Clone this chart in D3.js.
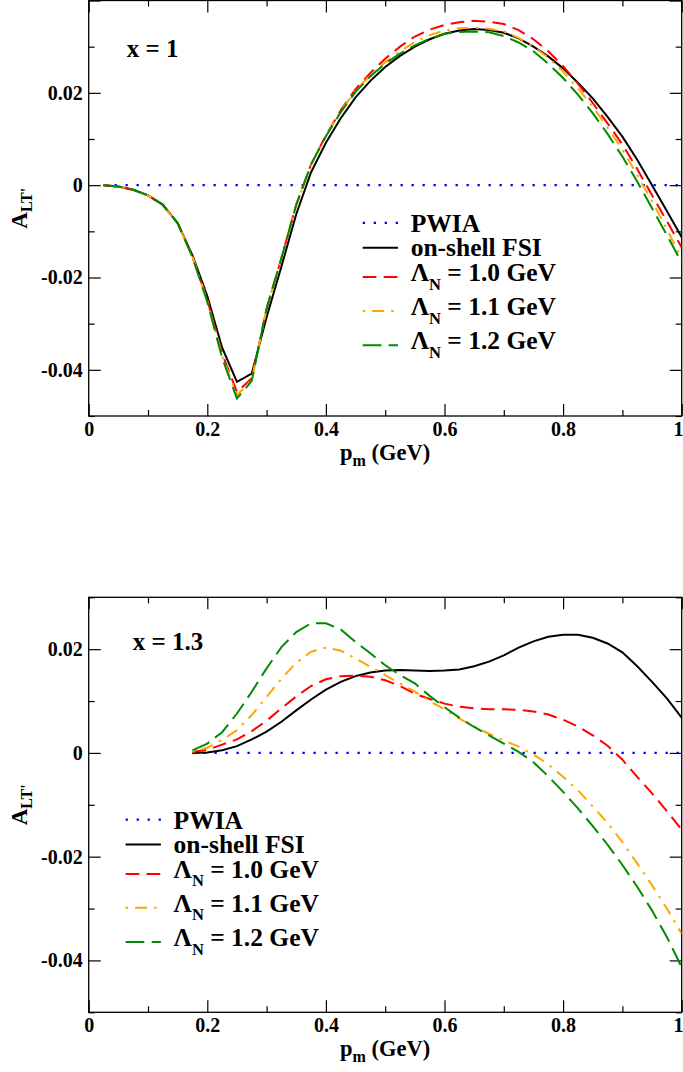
<!DOCTYPE html>
<html>
<head>
<meta charset="utf-8">
<script src="https://cdn.jsdelivr.net/npm/d3@7"></script>
<style>
  html, body { margin: 0; padding: 0; background: #ffffff; }
  svg { display: block; }
  text { font-family: "Liberation Serif", "Times New Roman", serif; font-weight: bold; fill: #000; }
</style>
</head>
<body>
<svg id="chart" width="683" height="1072"></svg>
<script>
// ---------------- DATA ----------------
const xTop = [0.025,0.05,0.075,0.1,0.125,0.15,0.175,0.2,0.225,0.25,0.275,0.3,0.325,0.35,0.375,0.4,
  0.425,0.45,0.475,0.5,0.525,0.55,0.575,0.6,0.625,0.65,0.675,0.7,0.725,0.75,0.775,0.8,0.825,0.85,
  0.875,0.9,0.925,0.95,0.975,1.0];
const topPWIA = [0,0,0,0,0,0,0,0,0,0,0,0,0,0,0,0,0,0,0,0,0,0,0,0,0,0,0,0,0,0,0,0,0,0,0,0,0,0,0,0];
const topOnShell = [0,-0.0003,-0.0010,-0.0022,-0.0042,-0.0082,-0.0152,-0.0240,-0.0352,-0.0426,-0.0408,
  -0.0286,-0.0176,-0.0063,0.0028,0.0092,0.0145,0.0190,0.0226,0.0256,0.0280,0.0300,0.0316,0.0328,
  0.0335,0.0338,0.0336,0.0330,0.0318,0.0300,0.0279,0.0253,0.0222,0.0188,0.0148,0.0105,0.0055,0.0000,
  -0.0056,-0.0113];
const topL10 = [0,-0.0003,-0.0010,-0.0022,-0.0043,-0.0082,-0.0155,-0.0248,-0.0365,-0.0448,-0.0418,
  -0.0268,-0.0158,-0.0042,0.0045,0.0108,0.0162,0.0208,0.0243,0.0274,0.0300,0.0322,0.0337,0.0347,
  0.0353,0.0356,0.0354,0.0349,0.0336,0.0316,0.0290,0.0258,0.0220,0.0178,0.0134,0.0088,0.0035,-0.0022,
  -0.0078,-0.0135];
const topL11 = [0,-0.0003,-0.0010,-0.0022,-0.0043,-0.0082,-0.0155,-0.0250,-0.0370,-0.0455,-0.0422,
  -0.0268,-0.0158,-0.0043,0.0045,0.0107,0.0160,0.0205,0.0238,0.0266,0.0290,0.0310,0.0325,0.0335,
  0.0340,0.0341,0.0339,0.0333,0.0319,0.0300,0.0276,0.0246,0.0210,0.0170,0.0125,0.0077,0.0022,-0.0035,
  -0.0095,-0.0160];
const topL12 = [0,-0.0003,-0.0010,-0.0022,-0.0043,-0.0082,-0.0156,-0.0253,-0.0374,-0.0462,-0.0424,
  -0.0267,-0.0158,-0.0043,0.0045,0.0106,0.0158,0.0202,0.0236,0.0263,0.0285,0.0303,0.0317,0.0328,
  0.0332,0.0333,0.0331,0.0323,0.0309,0.0290,0.0263,0.0232,0.0196,0.0156,0.0111,0.0062,0.0008,-0.0050,
  -0.0108,-0.0168];

const xBot = [0.175,0.2,0.225,0.25,0.275,0.3,0.325,0.35,0.375,0.4,0.425,0.45,0.475,0.5,0.525,0.55,
  0.575,0.6,0.625,0.65,0.675,0.7,0.725,0.75,0.775,0.8,0.825,0.85,0.875,0.9,0.925,0.95,0.975,1.0];
const botPWIA = [0,0,0,0,0,0,0,0,0,0,0,0,0,0,0,0,0,0,0,0,0,0,0,0,0,0,0,0,0,0,0,0,0,0];
const botOnShell = [0,0.0001,0.0005,0.0013,0.0026,0.0041,0.0060,0.0082,0.0103,0.0122,0.0137,0.0148,
  0.0155,0.0159,0.0160,0.0159,0.0158,0.0159,0.0161,0.0167,0.0176,0.0188,0.0203,0.0215,0.0224,0.0228,
  0.0228,0.0222,0.0211,0.0194,0.0167,0.0137,0.0105,0.0068];
const botL10 = [0.0002,0.0006,0.0016,0.0026,0.0042,0.0062,0.0086,0.0109,0.0129,0.0142,0.0148,0.0149,
  0.0147,0.0140,0.0129,0.0114,0.0104,0.0095,0.0089,0.0086,0.0084,0.0084,0.0083,0.0080,0.0074,0.0064,
  0.0051,0.0034,0.0014,-0.0013,-0.0046,-0.0078,-0.0112,-0.0148];
const botL11 = [0.0002,0.0010,0.0025,0.0044,0.0073,0.0108,0.0143,0.0174,0.0195,0.0203,0.0197,0.0182,
  0.0166,0.0150,0.0134,0.0118,0.0100,0.0084,0.0066,0.0051,0.0037,0.0024,0.0012,-0.0003,-0.0022,-0.0046,
  -0.0072,-0.0103,-0.0135,-0.0172,-0.0213,-0.0255,-0.0300,-0.0349];
const botL12 = [0.0005,0.0018,0.0040,0.0076,0.0118,0.0163,0.0204,0.0233,0.0250,0.0250,0.0238,0.0214,
  0.0192,0.0169,0.0150,0.0134,0.0110,0.0088,0.0068,0.0050,0.0034,0.0018,0.0002,-0.0018,-0.0045,-0.0075,
  -0.0107,-0.0141,-0.0177,-0.0216,-0.0258,-0.0304,-0.0355,-0.0413];

const seriesNames = ["PWIA", "on-shell FSI", "1.0", "1.1", "1.2"];
const xMajorTicks = [0, 0.2, 0.4, 0.6, 0.8, 1];
const xMinorTicks = [0.1, 0.3, 0.5, 0.7, 0.9];
const xTickLabels = ["0", "0.2", "0.4", "0.6", "0.8", "1"];
const yMajorTop = [-0.04, -0.02, 0, 0.02, 0.04];
const yMinorTop = [-0.05, -0.03, -0.01, 0.01, 0.03];
const yMajorBot = [-0.04, -0.02, 0, 0.02];
const yMinorBot = [-0.05, -0.03, -0.01, 0.01, 0.03];
const yTickLabels = {"-0.04": "-0.04", "-0.02": "-0.02", "0": "0", "0.02": "0.02", "0.04": ""};
const panelLabels = ["x = 1", "x = 1.3"];

// ---------------- STYLE ----------------
const styles = [
  {color: "#0000ff", dash: "2.3,8.7", width: 2.2},
  {color: "#000000", dash: null, width: 2},
  {color: "#ff0000", dash: "13.7,7.3", width: 2},
  {color: "#ffa500", dash: "2.5,7,12,7", width: 2},
  {color: "#008b00", dash: "18.7,7.3", width: 2}
];

const svg = d3.select("#chart");
const X0 = 88.7, X1 = 681.7;

const panels = [
  {top: 0.5, bottom: 416, yDomain: [-0.05, 0.04], xs: xTop,
   data: [topPWIA, topOnShell, topL10, topL11, topL12], yMajor: yMajorTop, yMinor: yMinorTop,
   label: panelLabels[0], labelPos: [126.7, 56.7], legendX: 362.7},
  {top: 597.3, bottom: 1012.3, yDomain: [-0.05, 0.03], xs: xBot,
   data: [botPWIA, botOnShell, botL10, botL11, botL12], yMajor: yMajorBot, yMinor: yMinorBot,
   label: panelLabels[1], labelPos: [132.8, 650], legendX: 125.6}
];

panels.forEach((p, pi) => {
  const x = d3.scaleLinear().domain([0, 1]).range([X0, X1]);
  const y = d3.scaleLinear().domain(p.yDomain).range([p.bottom, p.top]);
  const g = svg.append("g");

  const clipId = "clip" + pi;
  svg.append("clipPath").attr("id", clipId).append("rect")
    .attr("x", X0).attr("y", p.top).attr("width", X1 - X0).attr("height", p.bottom - p.top);

  // bottom axis with labels
  const axB = g.append("g").attr("transform", `translate(0,${p.bottom})`)
    .call(d3.axisBottom(x).tickValues(xMajorTicks).tickSize(-12).tickPadding(6)
      .tickFormat((d, i) => xTickLabels[i]));
  // keep the last label ("1") inside the picture
  axB.selectAll(".tick text").filter(d => d === 1)
    .attr("text-anchor", "end").attr("x", 683 - X1);
  g.append("g").attr("transform", `translate(0,${p.bottom})`)
    .call(d3.axisBottom(x).tickValues(xMinorTicks).tickSize(-6).tickFormat(""));
  g.append("g").attr("transform", `translate(0,${p.top})`)
    .call(d3.axisTop(x).tickValues(xMajorTicks).tickSize(-12).tickFormat(""));
  g.append("g").attr("transform", `translate(0,${p.top})`)
    .call(d3.axisTop(x).tickValues(xMinorTicks).tickSize(-6).tickFormat(""));

  g.append("g").attr("transform", `translate(${X0},0)`)
    .call(d3.axisLeft(y).tickValues(p.yMajor).tickSize(-12).tickPadding(6)
      .tickFormat(d => yTickLabels[String(+d.toFixed(2))] ?? ""));
  g.append("g").attr("transform", `translate(${X0},0)`)
    .call(d3.axisLeft(y).tickValues(p.yMinor).tickSize(-6).tickFormat(""));
  g.append("g").attr("transform", `translate(${X1},0)`)
    .call(d3.axisRight(y).tickValues(p.yMajor).tickSize(-12).tickFormat(""));
  g.append("g").attr("transform", `translate(${X1},0)`)
    .call(d3.axisRight(y).tickValues(p.yMinor).tickSize(-6).tickFormat(""));

  g.selectAll(".domain").remove();
  g.selectAll(".tick line").attr("stroke", "#000").attr("stroke-width", 1.2);
  g.selectAll(".tick text")
    .style("font-family", '"Liberation Serif", "Times New Roman", serif')
    .style("font-weight", "bold").style("font-size", "20px").attr("fill", "#000");

  // frame
  g.append("rect").attr("x", X0).attr("y", p.top).attr("width", X1 - X0)
    .attr("height", p.bottom - p.top).attr("fill", "none").attr("stroke", "#000")
    .attr("stroke-width", 1.3);

  // curves
  const line = d3.line().x(d => x(d[0])).y(d => y(d[1]));
  const cg = g.append("g").attr("clip-path", `url(#${clipId})`);
  p.data.forEach((vals, si) => {
    const st = styles[si];
    const pts = p.xs.map((xv, i) => [xv, vals[i]]);
    cg.append("path").datum(pts).attr("d", line)
      .attr("fill", "none").attr("stroke", st.color).attr("stroke-width", st.width)
      .attr("stroke-dasharray", st.dash).attr("stroke-linejoin", "miter");
  });

  // panel label
  g.append("text").attr("x", p.labelPos[0]).attr("y", p.labelPos[1])
    .style("font-size", "25px").text(p.label);

  // legend
  const rowOff = [222.4, 247.2, 276.6, 310.5, 344.8];
  const baseOff = [9, 8.5, 4, 4, 4];
  const lg = g.append("g");
  seriesNames.forEach((name, si) => {
    const st = styles[si];
    const ly = p.top + rowOff[si];
    lg.append("line").attr("x1", p.legendX).attr("x2", p.legendX + 35.3)
      .attr("y1", ly).attr("y2", ly)
      .attr("stroke", st.color).attr("stroke-width", st.width)
      .attr("stroke-dasharray", st.dash);
    const t = lg.append("text").attr("x", p.legendX + 48).attr("y", ly + baseOff[si])
      .style("font-size", "25.5px");
    if (si < 2) {
      t.text(name);
    } else {
      t.append("tspan").text("\u039B");
      t.append("tspan").attr("dy", 8.5).style("font-size", "16.5px").text("N");
      t.append("tspan").attr("dy", -8.5).text(" = " + name + " GeV");
    }
  });

  // axis titles
  const xt = g.append("text").attr("x", (X0 + X1) / 2).attr("y", p.bottom + 44)
    .attr("text-anchor", "middle").style("font-size", "22.5px");
  xt.append("tspan").text("p");
  xt.append("tspan").attr("dy", 6).style("font-size", "16px").text("m");
  xt.append("tspan").attr("dy", -6).text(" (GeV)");

  const yt = g.append("text")
    .attr("transform", `translate(27,${(p.top + p.bottom) / 2}) rotate(-90)`)
    .attr("text-anchor", "middle").style("font-size", "23px");
  yt.append("tspan").text("A");
  yt.append("tspan").attr("dy", 5).style("font-size", "16px").text("LT'");
});
</script>
</body>
</html>
